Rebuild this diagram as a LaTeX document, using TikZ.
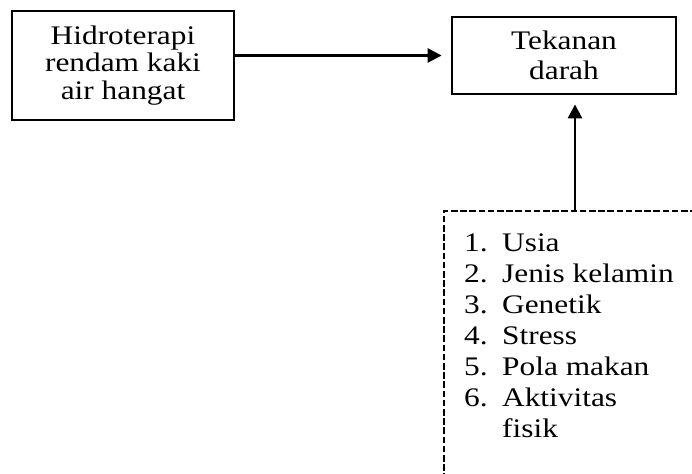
\documentclass[tikz,border=0pt]{standalone}
\usepackage{fontspec}
\setmainfont{Liberation Serif}[FakeStretch=1.17]
\usetikzlibrary{arrows.meta,positioning}

\begin{document}
\begin{tikzpicture}[x=0.5pt, y=-0.5pt,
  kotak/.style={draw, line width=1.4pt, align=center, inner sep=0pt},
  panah/.style={line width=1.4pt, -{Triangle[length=7pt,width=7pt]}, shorten >=4.5pt},
  putus/.style={draw, line width=1.2pt, dash pattern=on 3.3pt off 1.3pt, minimum width=131pt, minimum height=145pt}]
\useasboundingbox (0,0) rectangle (692,473);
\clip (0,0) rectangle (692,473);
\node[kotak, minimum width=111pt, minimum height=54.5pt, font=\fontsize{13.4}{13.8}\selectfont] (hidro) at (123,65.5) {Hidroterapi\\rendam kaki\\air hangat};
\node[kotak, minimum width=112pt, minimum height=38.5pt, font=\fontsize{13.4}{15}\selectfont] (tekanan) at (564,55.5) {Tekanan\\darah};
\node[putus] (faktor) at (575,356) {};
\node[anchor=north west, inner sep=0pt, font=\fontsize{13.4}{15.5}\selectfont] (daftar) at ([xshift=10.5pt,yshift=-9.6pt]faktor.north west) {%
\begin{tabular}{@{}p{19pt}@{}l@{}}
1. & Usia\\
2. & Jenis kelamin\\
3. & Genetik\\
4. & Stress\\
5. & Pola makan\\
6. & Aktivitas\\
   & fisik
\end{tabular}};
\draw[panah] (hidro.east |- tekanan.west) -- (tekanan.west);
\draw[panah] (faktor.north) -- (faktor.north |- tekanan.south);
\end{tikzpicture}
\end{document}
